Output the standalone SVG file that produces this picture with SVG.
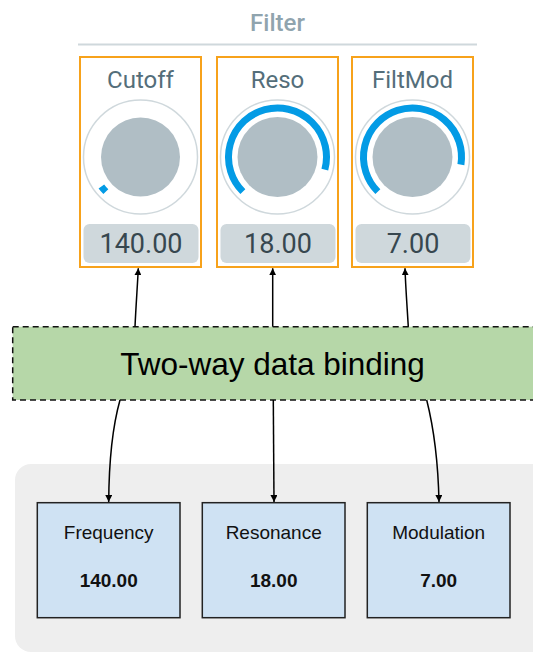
<svg xmlns="http://www.w3.org/2000/svg" width="533" height="653" viewBox="0 0 533 653">
  <style>
    .title { font-family: Roboto, "Liberation Sans", sans-serif; font-size: 24px; font-weight: 500; fill: #90a4ae; text-anchor: middle; }
    .knob-frame { fill: #ffffff; stroke: #f7a21b; stroke-width: 2; }
    .knob-label { font-family: Roboto, "Liberation Sans", sans-serif; font-size: 24px; fill: #546e7a; text-anchor: middle; }
    .ring { fill: none; stroke: #cfd8dc; stroke-width: 1.5; }
    .disk { fill: #b0bec5; }
    .level { fill: none; stroke: #039be5; stroke-width: 7; }
    .readout { fill: #cfd8dc; }
    .readout-text { font-family: Roboto, "Liberation Sans", sans-serif; font-size: 27px; fill: #37474f; text-anchor: middle; }
    .binding { fill: #b6d7a8; stroke: #111111; stroke-width: 1.5; stroke-dasharray: 6 4; }
    .binding-text { font-family: "Liberation Sans", Arial, sans-serif; font-size: 31.5px; fill: #000000; text-anchor: middle; }
    .model-bg { fill: #eeeeee; }
    .model { fill: #cfe2f3; stroke: #222222; stroke-width: 1.5; }
    .model-name { font-family: "Liberation Sans", Arial, sans-serif; font-size: 19px; fill: #111111; text-anchor: middle; }
    .model-value { font-family: "Liberation Sans", Arial, sans-serif; font-size: 19px; font-weight: bold; fill: #111111; text-anchor: middle; }
    .link { fill: none; stroke: #000000; stroke-width: 1.5; }
  </style>
  <defs>
    <marker id="arrow" viewBox="0 0 10 10" refX="10" refY="5" markerWidth="7" markerHeight="7" markerUnits="userSpaceOnUse" orient="auto">
      <path d="M0,0 L10,5 L0,10 z" fill="#000000"/>
    </marker>
  </defs>

  <!-- Filter panel heading -->
  <g id="filter-title">
    <text class="title" x="277.5" y="31">Filter</text>
    <line x1="78" y1="44.5" x2="477" y2="44.5" stroke="#cfd8dc" stroke-width="2"/>
  </g>

  <!-- Knob: Cutoff -->
  <g id="knob-cutoff">
    <rect class="knob-frame" x="80" y="57" width="121" height="210"/>
    <text class="knob-label" x="140.5" y="88">Cutoff</text>
    <circle class="ring" cx="140.5" cy="157" r="57"/>
    <circle class="disk" cx="140.5" cy="157" r="39.5"/>
    <path class="level" d="M105.85,191.65 A49,49 0 0 1 101.37,186.49"/>
    <rect class="readout" x="83.5" y="224" width="115" height="39" rx="6"/>
    <text class="readout-text" x="141" y="253">140.00</text>
  </g>

  <!-- Knob: Reso -->
  <g id="knob-reso">
    <rect class="knob-frame" x="217" y="57" width="121" height="210"/>
    <text class="knob-label" x="277.5" y="88">Reso</text>
    <circle class="ring" cx="277.5" cy="157" r="57"/>
    <circle class="disk" cx="277.5" cy="157" r="40"/>
    <path class="level" d="M242.85,191.65 A49,49 0 1 1 324.83,169.68"/>
    <rect class="readout" x="220.5" y="224" width="115" height="39" rx="6"/>
    <text class="readout-text" x="278" y="253">18.00</text>
  </g>

  <!-- Knob: FiltMod -->
  <g id="knob-filtmod">
    <rect class="knob-frame" x="352" y="57" width="121" height="210"/>
    <text class="knob-label" x="412.5" y="88">FiltMod</text>
    <circle class="ring" cx="412.5" cy="157" r="57"/>
    <circle class="disk" cx="412.5" cy="157" r="40"/>
    <path class="level" d="M377.85,191.65 A49,49 0 1 1 460.9,164.66"/>
    <rect class="readout" x="355.5" y="224" width="115" height="39" rx="6"/>
    <text class="readout-text" x="413" y="253">7.00</text>
  </g>

  <!-- Binding layer -->
  <g id="binding">
    <rect class="binding" x="12.7" y="326.7" width="540" height="73.3"/>
    <text class="binding-text" x="272.5" y="375">Two-way data binding</text>
  </g>

  <!-- Model container -->
  <g id="model-container">
    <rect class="model-bg" x="15" y="464" width="540" height="188" rx="16"/>
  </g>

  <g id="model-frequency">
    <rect class="model" x="37.3" y="502.7" width="142.7" height="115"/>
    <text class="model-name" x="108.7" y="538.5">Frequency</text>
    <text class="model-value" x="108.7" y="586.5">140.00</text>
  </g>

  <g id="model-resonance">
    <rect class="model" x="202.3" y="502.7" width="142.7" height="115"/>
    <text class="model-name" x="273.7" y="538.5">Resonance</text>
    <text class="model-value" x="273.7" y="586.5">18.00</text>
  </g>

  <g id="model-modulation">
    <rect class="model" x="367.3" y="502.7" width="142.7" height="115"/>
    <text class="model-name" x="438.7" y="538.5">Modulation</text>
    <text class="model-value" x="438.7" y="586.5">7.00</text>
  </g>

  <!-- Connectors -->
  <g id="connectors">
    <path class="link" d="M135,326.7 C136,305 137.5,285 138.3,268.3" marker-end="url(#arrow)"/>
    <path class="link" d="M272.7,326.7 L272.7,268.3" marker-end="url(#arrow)"/>
    <path class="link" d="M408.3,326.7 C407,305 405.5,285 405,268.3" marker-end="url(#arrow)"/>
    <path class="link" d="M120,400 C113,425 109,455 108.7,502" marker-end="url(#arrow)"/>
    <path class="link" d="M273.3,400 L274,502" marker-end="url(#arrow)"/>
    <path class="link" d="M426.7,400 C433,425 438,455 439,502" marker-end="url(#arrow)"/>
  </g>
</svg>
